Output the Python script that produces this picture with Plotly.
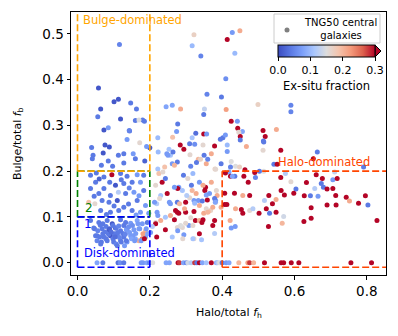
import plotly.graph_objects as go

# ---------------- data ----------------
# upper region (f_b > 0.25)
upper_fh = [0.116,0.058,0.101,0.113,0.147,0.064,0.163,0.056,0.119,0.160,
            0.180,0.185,0.170,0.073,0.085,0.144,0.137,0.172,0.222,0.245,
            0.262,0.277,0.263,0.274,0.285,0.322,0.317,0.414,0.341,0.410,
            0.358,0.398,0.411,0.351,0.349,0.317,0.327,0.324,0.349,0.357,
            0.379,0.395,0.402,0.294,0.253,0.200,0.039,0.076,0.088,0.143,
            0.428,0.449,0.435,0.499,0.425,0.442,0.443,0.456,0.446,0.513,
            0.519,0.550,0.409,0.450,0.450,0.514,0.590,0.590]
upper_fb = [0.477,0.382,0.352,0.357,0.349,0.336,0.336,0.319,0.314,0.311,
            0.312,0.309,0.312,0.290,0.295,0.288,0.269,0.262,0.273,0.341,
            0.344,0.303,0.274,0.287,0.336,0.498,0.474,0.488,0.452,0.402,
            0.368,0.362,0.335,0.336,0.324,0.273,0.283,0.259,0.281,0.281,
            0.255,0.270,0.273,0.248,0.248,0.251,0.252,0.257,0.253,0.289,
            0.503,0.507,0.458,0.346,0.309,0.309,0.294,0.287,0.285,0.289,
            0.276,0.291,0.279,0.276,0.268,0.266,0.344,0.330]
upper_ex = [0.05,0.01,0.01,0.01,0.04,0.01,0.04,0.04,0.01,0.04,
            0.04,0.04,0.15,0.01,0.07,0.04,0.07,0.16,0.10,0.08,
            0.08,0.04,0.19,0.07,0.21,0.17,0.10,0.30,0.05,0.06,
            0.05,0.04,0.22,0.13,0.04,0.11,0.03,0.06,0.30,0.07,
            0.30,0.04,0.04,0.30,0.11,0.01,0.04,0.01,0.01,0.05,
            0.07,0.21,0.10,0.17,0.30,0.07,0.30,0.08,0.16,0.30,
            0.30,0.21,0.07,0.30,0.04,0.04,0.05,0.05]

# band 0.2 < f_b < 0.26
band_fh = [0.043,0.071,0.041,0.113,0.128,0.154,0.191,0.085,0.097,0.160,
           0.186,0.066,0.128,0.223,0.247,0.257,0.241,0.262,0.276,
           0.284,0.310,0.347,0.370,0.250,0.264,0.268,0.222]
band_fb = [0.235,0.240,0.227,0.235,0.238,0.238,0.254,0.222,0.211,0.227,
           0.222,0.213,0.218,0.242,0.238,0.235,0.209,0.216,0.220,
           0.257,0.260,0.257,0.238,0.235,0.242,0.213,0.205]
band_ex = [0.04,0.01,0.04,0.04,0.04,0.07,0.07,0.04,0.04,0.04,
           0.02,0.04,0.04,0.10,0.07,0.11,0.19,0.07,0.04,
           0.30,0.04,0.16,0.21,0.07,0.04,0.20,0.11]

# "2" box (0 < f_h < 0.2, 0.1 < f_b < 0.2)
box2_fh = [0.095,0.036,0.073,0.119,0.137,0.165,0.183,0.050,0.089,0.105,
           0.128,0.151,0.174,0.113,0.073,0.036,0.059,0.091,0.133,0.156,
           0.183,0.031,0.048,0.068,0.087,0.110,0.128,0.165,0.188,0.064,
           0.091,0.114,0.151,0.174,0.197,
           0.052,0.121,0.143,0.101,0.162,0.080,0.046,0.170,0.141,0.060]
box2_fb = [0.192,0.191,0.187,0.195,0.189,0.192,0.191,0.176,0.176,0.169,
           0.173,0.176,0.176,0.154,0.162,0.162,0.151,0.147,0.151,0.154,
           0.158,0.132,0.129,0.136,0.132,0.136,0.121,0.136,0.125,0.114,
           0.110,0.114,0.114,0.110,0.108,
           0.196,0.181,0.163,0.124,0.104,0.105,0.145,0.146,0.128,0.183]
box2_ex = [0.30,0.04,0.04,0.04,0.04,0.07,0.04,0.04,0.04,0.01,
           0.04,0.04,0.07,0.12,0.04,0.04,0.04,0.04,0.04,0.07,
           0.04,0.19,0.16,0.04,0.04,0.01,0.04,0.04,0.07,0.04,
           0.04,0.04,0.04,0.07,0.07,
           0.04,0.04,0.05,0.04,0.07,0.04,0.04,0.07,0.04,0.02]

# intermediate region (0.2 < f_h < 0.4, f_b < 0.2)
mid_fh = [0.216,0.234,0.248,0.243,0.230,0.219,0.257,0.276,0.222,0.230,0.216,0.257,
          0.280,0.290,0.317,0.352,0.322,0.334,0.276,0.299,0.310,0.345,
          0.359,0.386,0.382,0.368,0.362,0.280,0.299,0.322,0.326,0.337,
          0.313,0.308,0.290,0.285,0.294,0.322,0.343,
          0.277,0.220,0.243,0.216,0.207,0.243,0.219,0.262,0.276,
          0.225,0.236,0.268,0.293,0.305,0.319,0.315,0.337,0.354,0.370,
          0.384,0.328,0.302,0.227,0.254,0.213,0.282,0.271,0.296,0.324,
          0.337,0.356,0.374,0.382,0.397,0.347,0.319,0.268,0.299,0.277,
          0.337,0.374,0.291,0.319]
mid_fb = [0.169,0.176,0.151,0.184,0.147,0.129,0.129,0.110,0.103,0.092,0.088,0.103,
          0.165,0.158,0.158,0.158,0.136,0.136,0.132,0.132,0.142,0.135,
          0.137,0.147,0.132,0.114,0.112,0.108,0.110,0.112,0.092,0.092,
          0.098,0.081,0.077,0.081,0.061,0.052,0.050,
          0.162,0.110,0.099,0.085,0.079,0.072,0.056,0.056,0.077,
          0.195,0.198,0.165,0.191,0.184,0.195,0.169,0.176,0.165,0.176,
          0.158,0.151,0.147,0.140,0.132,0.132,0.129,0.114,0.118,0.130,
          0.125,0.118,0.121,0.136,0.121,0.094,0.081,0.094,0.086,0.070,
          0.063,0.081,0.052,0.052]
mid_ex = [0.16,0.30,0.30,0.04,0.11,0.12,0.07,0.30,0.07,0.21,0.16,0.21,
          0.07,0.11,0.20,0.30,0.07,0.07,0.04,0.30,0.16,0.04,
          0.30,0.21,0.16,0.17,0.19,0.30,0.30,0.30,0.30,0.21,
          0.16,0.07,0.16,0.15,0.07,0.16,0.11,
          0.30,0.07,0.11,0.30,0.12,0.30,0.30,0.11,0.16,
          0.19,0.16,0.07,0.04,0.16,0.10,0.04,0.07,0.30,0.21,
          0.16,0.21,0.12,0.16,0.07,0.07,0.20,0.30,0.21,0.10,
          0.21,0.16,0.21,0.07,0.21,0.30,0.16,0.30,0.16,0.07,
          0.30,0.30,0.16,0.11]

# halo-side region (f_h > 0.3, 0.05 < f_b < 0.27)
halo_fh = [0.414,0.467,0.515,0.513,0.562,0.311,0.334,0.340,0.350,0.356,
           0.329,0.313,0.397,0.414,0.380,0.437,0.448,0.463,0.419,0.435,
           0.423,0.472,0.492,0.460,0.515,0.543,0.552,0.652,0.663,0.360,
           0.425,0.423,0.382,0.409,0.428,0.503,0.490,0.575,0.562,0.660,
           0.677,0.711,0.706,0.718,0.791,0.633,
           0.347,0.356,0.365,0.379,0.381,0.407,0.434,0.457,0.476,0.517,
           0.529,0.549,0.563,0.604,0.598,0.572,0.627,0.644,0.665,0.656,
           0.674,0.680,0.690,0.706,0.714,0.743,0.752,0.796,0.777,0.803,
           0.690,0.715,0.646,0.590,0.407,0.413,0.437,0.453,0.457,0.476,
           0.485,0.502,0.522,0.531,0.539,0.549,0.570,0.566,0.528,0.626,
           0.646,0.828,0.422,0.425,0.436,0.379,0.379,0.344,0.349,0.360]
halo_fb = [0.257,0.254,0.264,0.246,0.246,0.236,0.226,0.226,0.235,0.216,
           0.219,0.211,0.216,0.243,0.205,0.211,0.209,0.203,0.198,0.189,
           0.189,0.176,0.186,0.189,0.200,0.215,0.215,0.227,0.242,0.226,
           0.221,0.209,0.204,0.196,0.189,0.200,0.197,0.195,0.186,0.192,
           0.184,0.198,0.181,0.184,0.209,0.175,
           0.169,0.148,0.151,0.140,0.132,0.152,0.152,0.147,0.147,0.136,
           0.147,0.138,0.158,0.161,0.152,0.148,0.146,0.146,0.145,0.162,
           0.173,0.165,0.161,0.162,0.147,0.143,0.135,0.146,0.130,0.126,
           0.126,0.126,0.120,0.177,0.127,0.127,0.118,0.116,0.108,0.114,
           0.118,0.108,0.118,0.108,0.129,0.110,0.101,0.086,0.079,0.090,
           0.097,0.092,0.092,0.076,0.079,0.092,0.064,0.088,0.108,0.110]
halo_ex = [0.10,0.21,0.04,0.16,0.30,0.16,0.20,0.17,0.04,0.21,
           0.04,0.05,0.04,0.07,0.17,0.15,0.17,0.30,0.08,0.04,
           0.30,0.30,0.05,0.30,0.15,0.04,0.30,0.30,0.04,0.05,
           0.15,0.05,0.16,0.30,0.08,0.04,0.30,0.12,0.30,0.30,
           0.30,0.13,0.07,0.30,0.04,0.30,
           0.21,0.08,0.07,0.04,0.08,0.30,0.30,0.21,0.30,0.12,
           0.30,0.21,0.30,0.04,0.30,0.30,0.30,0.04,0.07,0.12,
           0.04,0.04,0.30,0.30,0.30,0.30,0.21,0.30,0.30,0.04,
           0.30,0.30,0.30,0.16,0.30,0.30,0.21,0.30,0.30,0.16,
           0.12,0.30,0.30,0.04,0.30,0.30,0.14,0.20,0.30,0.30,
           0.30,0.30,0.21,0.07,0.07,0.30,0.12,0.30,0.21,0.20]

# "1" box (disk-dominated cluster)
disk_fh = [0.036,0.059,0.082,0.096,0.119,0.133,0.147,0.165,0.179,0.193,
           0.045,0.068,0.087,0.105,0.119,0.137,0.156,0.170,0.188,0.179,
           0.170,0.054,0.073,0.091,0.110,0.128,0.147,0.160,0.082,0.100,
           0.119,0.137,0.188,0.202,0.047,0.056,0.050,0.061,0.054,0.070,
           0.079,0.089,0.098,0.107,0.111,0.102,0.086,0.079,0.098,0.116,
           0.125,0.135,0.144,0.153,0.149,0.158,0.135,0.121,0.167,0.172,
           0.181,0.176,0.185,0.190,0.194,0.070,0.066,0.107,0.130,0.064,
           0.110,
           0.093,0.114,0.128,0.141,0.161,0.076,0.104,0.132,0.152,0.063]
disk_fb = [0.092,0.088,0.092,0.085,0.094,0.088,0.086,0.092,0.085,0.088,
           0.076,0.074,0.072,0.076,0.070,0.074,0.072,0.074,0.070,0.052,
           0.048,0.059,0.056,0.059,0.061,0.056,0.059,0.052,0.048,0.045,
           0.048,0.045,0.056,0.066,0.074,0.070,0.059,0.056,0.048,0.085,
           0.079,0.074,0.081,0.076,0.066,0.063,0.062,0.052,0.052,0.055,
           0.064,0.072,0.066,0.059,0.052,0.048,0.048,0.045,0.085,0.074,
           0.063,0.048,0.052,0.074,0.063,0.063,0.045,0.041,0.037,0.041,
           0.037,
           0.067,0.080,0.081,0.078,0.064,0.067,0.056,0.062,0.081,0.082]
disk_ex = [0.04,0.04,0.04,0.01,0.04,0.04,0.07,0.08,0.07,0.04,
           0.04,0.04,0.01,0.01,0.04,0.04,0.07,0.07,0.20,0.25,
           0.21,0.04,0.04,0.01,0.04,0.04,0.07,0.08,0.04,0.04,
           0.04,0.07,0.08,0.07,0.04,0.05,0.04,0.04,0.05,0.04,
           0.04,0.02,0.04,0.04,0.04,0.04,0.04,0.04,0.04,0.05,
           0.04,0.07,0.07,0.07,0.08,0.07,0.04,0.04,0.07,0.07,
           0.22,0.07,0.30,0.07,0.08,0.04,0.04,0.05,0.07,0.04,
           0.04,
           0.03,0.05,0.04,0.06,0.07,0.04,0.03,0.05,0.06,0.04]

# galaxies with zero bulge fraction
zero_fh = [0.054,0.070,0.112,0.118,0.128,0.176,0.181,0.192,0.199,0.208,
           0.245,0.254,0.278,0.282,0.293,0.301,0.305,0.314,0.324,0.330,
           0.337,0.345,0.356,0.370,0.384,0.388,0.393,0.400,0.411,0.419,
           0.446,0.471,0.476,0.487,0.517,0.563,0.570,0.591,0.612,0.756,
           0.813]
zero_fb = [0.0,0.0,0.0,0.0,0.0,0.0,0.0,0.0,0.0,0.0,
           0.0,0.0,0.0,0.0,0.0,0.0,0.0,0.0,0.0,0.0,
           0.0,0.0,0.0,0.0,0.0,0.0,0.0,0.0,0.0,0.0,
           0.0,0.0,0.0,0.0,0.0,0.0,0.0,0.0,0.0,0.0,
           0.0]
zero_ex = [0.08,0.04,0.03,0.06,0.04,0.07,0.07,0.08,0.05,0.15,
           0.08,0.08,0.30,0.28,0.08,0.05,0.14,0.12,0.28,0.04,
           0.30,0.08,0.11,0.30,0.09,0.12,0.15,0.04,0.07,0.08,
           0.20,0.22,0.28,0.20,0.30,0.30,0.30,0.30,0.30,0.30,
           0.30]

colorbar_ticks = [0.0, 0.1, 0.2, 0.3]
x_ticks = [0.0, 0.2, 0.4, 0.6, 0.8]
y_ticks = [0.0, 0.1, 0.2, 0.3, 0.4, 0.5]
legend_label = "TNG50 central<br>galaxies"

groups = [(upper_fh, upper_fb, upper_ex), (band_fh, band_fb, band_ex),
          (box2_fh, box2_fb, box2_ex), (mid_fh, mid_fb, mid_ex),
          (halo_fh, halo_fb, halo_ex), (disk_fh, disk_fb, disk_ex),
          (zero_fh, zero_fb, zero_ex)]
fh, fb, ex = [], [], []
for gx, gy, gc in groups:
    assert len(gx) == len(gy) == len(gc), (len(gx), len(gy), len(gc))
    fh += gx; fb += gy; ex += gc

# ---------------- styling ----------------
FONT = "DejaVu Sans"
XR = [-0.018, 0.853]
YR = [-0.027, 0.548]
W, H = 398, 336
ML, MR, MT, MB = 71, 12, 12, 61
PW, PH = W - ML - MR, H - MT - MB

def px(xp):  # pixel x -> paper x
    return (xp - ML) / PW

def py(yp):  # pixel y -> paper y
    return (H - MB - yp) / PH

coolwarm = [[0.0, "rgb(59,76,192)"], [0.125, "rgb(89,119,226)"],
            [0.25, "rgb(123,159,249)"], [0.375, "rgb(170,199,253)"],
            [0.5, "rgb(221,221,221)"], [0.625, "rgb(244,196,173)"],
            [0.75, "rgb(244,154,123)"], [0.875, "rgb(221,97,77)"],
            [1.0, "rgb(180,4,38)"]]

fig = go.Figure()
fig.add_trace(go.Scatter(
    x=fh, y=fb, mode="markers", showlegend=False, name="TNG50 central galaxies",
    marker=dict(size=5, color=ex, colorscale=coolwarm, cmin=0, cmax=0.3,
                line=dict(width=0),
                colorbar=dict(orientation="h", x=px(326.5), xanchor="center",
                              y=py(45), yanchor="top", len=97 / PW, lenmode="fraction",
                              thickness=12, thicknessmode="pixels",
                              outlinewidth=1, outlinecolor="black",
                              tickvals=colorbar_ticks, tickformat=".1f",
                              ticks="outside", ticklen=3.5, tickcolor="black",
                              tickfont=dict(family=FONT, size=11, color="black"),
                              title=dict(text="Ex-situ fraction", side="bottom",
                                         font=dict(family=FONT, size=11.5, color="black")),
                              xpad=0, ypad=0))))

def seg(x0, y0, x1, y1, color):
    fig.add_shape(type="line", x0=x0, y0=y0, x1=x1, y1=y1, xref="x", yref="y",
                  line=dict(color=color, width=1.6, dash="7px,3px"), layer="above")

ORANGE, GREEN, BLUE, HALO = "#FFA500", "#008000", "#0000FF", "#FF4500"
# Bulge-dominated
seg(0, 0.2, 0, YR[1], ORANGE); seg(0.2, 0.2, 0.2, YR[1], ORANGE)
# box 2
seg(0, 0.1, 0, 0.2, GREEN); seg(0.2, 0.1, 0.2, 0.2, GREEN)
seg(0, 0.1, 0.2, 0.1, GREEN); seg(0, 0.2, 0.2, 0.2, GREEN)
seg(0, 0.2, 0.2, 0.2, ORANGE)
# Disk-dominated
seg(0, -0.01, 0, 0.1, BLUE); seg(0.2, -0.01, 0.2, 0.1, BLUE)
seg(0, -0.01, 0.2, -0.01, BLUE); seg(0, 0.1, 0.2, 0.1, BLUE)
# Halo-dominated
seg(0.4, -0.01, 0.4, 0.2, HALO); seg(0.4, 0.2, XR[1], 0.2, HALO)
seg(0.4, -0.01, XR[1], -0.01, HALO)

def note(text, x, y, color, size=11.5):
    fig.add_annotation(x=x, y=y, xref="x", yref="y", text=text, showarrow=False,
                       xanchor="left", yanchor="middle",
                       font=dict(family=FONT, size=size, color=color))

note("Bulge-dominated", 0.010, 0.530, ORANGE)
note("Halo-dominated", 0.550, 0.219, HALO)
note("Disk-dominated", 0.012, 0.021, BLUE)
note("1", 0.013, 0.084, BLUE, 12)
note("2", 0.015, 0.119, GREEN, 12)

# colorbar "extend max" arrow
fig.add_shape(type="path", xref="paper", yref="paper",
              path=f"M {px(375)} {py(45)} L {px(381)} {py(51)} L {px(375)} {py(57)} Z",
              fillcolor="rgb(180,4,38)", line=dict(color="black", width=1))

# legend box (matplotlib style)
fig.add_shape(type="rect", xref="paper", yref="paper",
              x0=px(274), x1=px(380), y0=py(43), y1=py(14),
              fillcolor="rgba(255,255,255,0.8)", line=dict(color="#cccccc", width=1))
fig.add_shape(type="circle", xref="paper", yref="paper",
              x0=px(284.5), x1=px(289.5), y0=py(32.5), y1=py(27.5),
              fillcolor="grey", line=dict(width=0))
fig.add_annotation(text=legend_label, xref="paper", yref="paper",
                   x=px(340), y=py(29), xanchor="center", yanchor="middle",
                   align="center", showarrow=False,
                   font=dict(family=FONT, size=10, color="black"))

axis_common = dict(showline=True, mirror=True, linecolor="black", linewidth=1,
                   ticks="outside", ticklen=3.5, tickwidth=1, tickcolor="black",
                   showgrid=False, zeroline=False,
                   tickfont=dict(family=FONT, size=13.5, color="black"))
fig.update_xaxes(range=XR, tickvals=x_ticks, tickformat=".1f", **axis_common)
fig.update_yaxes(range=YR, tickvals=y_ticks, tickformat=".1f", **axis_common)

fig.add_annotation(text="Halo/total <i>f</i><sub>h</sub>", xref="paper", yref="paper",
                   x=0.5, y=py(313), xanchor="center", yanchor="middle", showarrow=False,
                   font=dict(family=FONT, size=11, color="black"))
fig.add_annotation(text="Bulge/total <i>f</i><sub>b</sub>", xref="paper", yref="paper",
                   x=px(17.5), y=0.5, xanchor="center", yanchor="middle", showarrow=False,
                   textangle=-90, font=dict(family=FONT, size=11, color="black"))

fig.update_layout(
    width=W, height=H,
    margin=dict(l=ML, r=MR, t=MT, b=MB, autoexpand=False),
    paper_bgcolor="white", plot_bgcolor="white",
    font=dict(family=FONT, color="black"),
    showlegend=False,
)

fig.write_html("out.html", config={"displayModeBar": False},
               post_script="document.body.style.margin='0';document.body.style.padding='0';")
